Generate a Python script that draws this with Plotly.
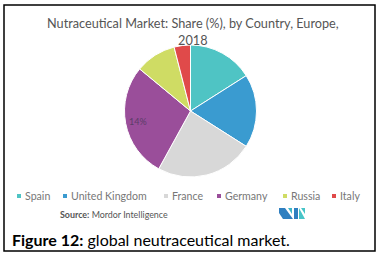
import plotly.graph_objects as go

W, H = 381, 256

countries = ["Spain", "United Kingdom", "France", "Germany", "Russia", "Italy"]
shares = [16, 18, 24, 28, 10, 4]
colors = ["#4fc4c4", "#3a9bd0", "#d8d8d8", "#9a4e9a", "#cfdc64", "#e04a4a"]
title_text = "Nutraceutical Market: Share (%), by Country, Europe,<br>2018"
slice_label = "14%"
source_bold = "Source:"
source_name = "Mordor Intelligence"
caption_bold = "Figure 12:"
caption_rest = " global neutraceutical market."

def px(x):
    return x / W

def py(y):
    return 1 - y / H

cx, cy, r = 190.5, 111, 66

fig = go.Figure()
fig.add_trace(go.Pie(
    labels=countries, values=shares, sort=False, direction="clockwise",
    rotation=0, textinfo="none", showlegend=False,
    marker=dict(colors=colors, line=dict(color="white", width=1)),
    domain=dict(x=[px(cx - r), px(cx + r)], y=[py(cy + r), py(cy - r)]),
))

ann = []
shapes = []

# title
ann.append(dict(x=px(193), y=py(31), xref="paper", yref="paper", text=title_text,
                showarrow=False, xanchor="center", yanchor="middle",
                font=dict(family="Lato", size=12.7, color="#555555")))
# slice label
ann.append(dict(x=px(138), y=py(121), xref="paper", yref="paper", text=slice_label,
                showarrow=False, xanchor="center", yanchor="middle",
                font=dict(family="Lato", size=9, color="#5a3c68")))

# legend
marker_x = [17, 63, 164, 217, 283, 332]
for name, col, mx in zip(countries, colors, marker_x):
    shapes.append(dict(type="rect", xref="paper", yref="paper",
                       x0=px(mx), x1=px(mx + 4), y0=py(198), y1=py(194),
                       fillcolor=col, line=dict(width=0)))
    ann.append(dict(x=px(mx + 6), y=py(196), xref="paper", yref="paper", text=name,
                    showarrow=False, xanchor="left", yanchor="middle",
                    font=dict(family="Lato", size=10.6, color="#777777")))

# source
ann.append(dict(x=px(58), y=py(214), xref="paper", yref="paper",
                text="<b>" + source_bold + "</b> " + source_name,
                showarrow=False, xanchor="left", yanchor="middle",
                font=dict(family="Lato", size=8.9, color="#555555")))

# logo
def poly(pts, col):
    path = "M " + " L ".join(f"{px(x)},{py(y)}" for x, y in pts) + " Z"
    shapes.append(dict(type="path", xref="paper", yref="paper", path=path,
                       fillcolor=col, line=dict(width=0)))

poly([(279, 208), (285, 208), (293, 219), (283, 219), (279, 213)], "#2f7fc0")
poly([(288, 208), (292, 208), (292, 214)], "#3fb6c8")
poly([(294, 208), (298, 208), (298, 219), (294, 219)], "#2f7fc0")
poly([(299, 208), (305, 219), (299, 219)], "#47c4c8")
poly([(301, 208), (305, 208), (305, 214)], "#47c4c8")

# caption
ann.append(dict(x=px(10), y=py(239), xref="paper", yref="paper",
                text="<b>" + caption_bold + "</b>" + caption_rest,
                showarrow=False, xanchor="left", yanchor="middle",
                font=dict(family="Lato", size=16, color="#000000")))

# frame
shapes.append(dict(type="rect", xref="paper", yref="paper",
                   x0=px(4), x1=px(375), y0=py(251), y1=py(5),
                   line=dict(color="black", width=1.5), fillcolor="rgba(0,0,0,0)"))

fig.update_layout(width=W, height=H, margin=dict(l=0, r=0, t=0, b=0),
                  paper_bgcolor="white", plot_bgcolor="white",
                  annotations=ann, shapes=shapes)
fig.write_html("out.html", config={"displayModeBar": False})
